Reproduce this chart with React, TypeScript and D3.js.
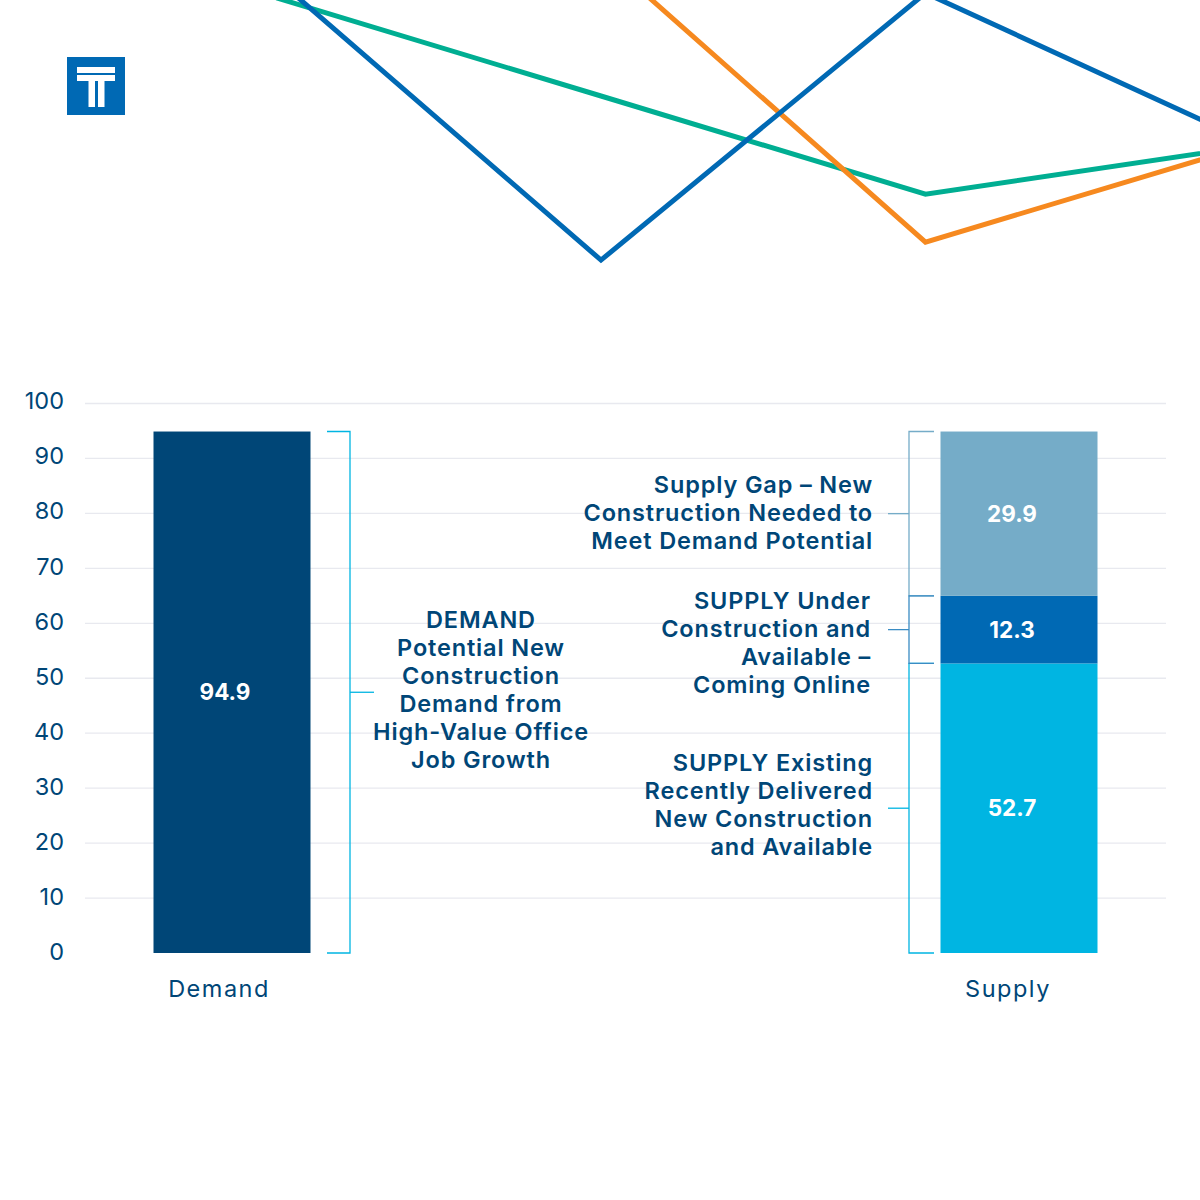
import React from 'react';
import * as d3 from 'd3';

const categories = ['Demand', 'Supply'];
const demandValues = [94.9];
const supplySegments = ['existing', 'underConstruction', 'gap'];
const supplyValues = [52.7, 12.3, 29.9];
const yTicks = [0, 10, 20, 30, 40, 50, 60, 70, 80, 90, 100];

const demandNote = ['DEMAND', 'Potential New', 'Construction', 'Demand from', 'High-Value Office', 'Job Growth'];
const gapNote = ['Supply Gap – New', 'Construction Needed to', 'Meet Demand Potential'];
const underNote = ['SUPPLY Under', 'Construction and', 'Available –', 'Coming Online'];
const existingNote = ['SUPPLY Existing', 'Recently Delivered', 'New Construction', 'and Available'];

// decorative trend lines at the top, cropped by the page edge
const trendSteps = ['a', 'b', 'c', 'd'];
const blueTrend = [107, 13.3, 102.3, 52.6];
const greenTrend = [100.7, 68, 35.3, 51.3];
const orangeTrend = [null, 115, 19.3, 51.7];

const NAVY = '#004677';
const BLUE = '#0069b4';
const CYAN = '#00b5e2';
const LIGHT = '#75acc8';
const GREEN = '#00ae92';
const ORANGE = '#f6891f';
const FONT = 'Inter, "Open Sans", sans-serif';

const width = 1200;
const height = 1200;

const y = d3.scaleLinear().domain([0, 100]).range([953, 403.5]);
const tickLabelY = d3.scaleLinear().domain([0, 100]).range([952, 401]);
const x = d3.scalePoint<string>().domain(categories).range([232, 1019]);
const barWidth = 157;

const trendX = d3.scalePoint<string>().domain(trendSteps).range([276.5, 1250]);
const trendY = d3.scaleLinear().domain([0, 100]).range([300, 0]);
const trendLine = d3
  .line<number | null>()
  .defined(d => d !== null)
  .x((_, i) => trendX(trendSteps[i]) as number)
  .y(d => trendY(d as number));

const stacked = d3.stack<number[]>().keys(['0', '1', '2'])([supplyValues] as any);
const supplyColors = d3.scaleOrdinal<string>().domain(supplySegments).range([CYAN, BLUE, LIGHT]);

const Note = ({ lines, px, top, anchor }: { lines: string[]; px: number; top: number; anchor: string }) => (
  <text
    x={px}
    y={top}
    textAnchor={anchor}
    fontFamily={FONT}
    fontWeight={600}
    fontSize={23.5}
    letterSpacing={0.85}
    fill={NAVY}
  >
    {lines.map((l, i) => (
      <tspan key={l} x={px} y={top + i * 28}>
        {l}
      </tspan>
    ))}
  </text>
);

// bracket: spine between two values with a stub pointing at the note
const Bracket = ({ from, to, spine, tip, stub, color }: any) => (
  <g fill="none" stroke={color} strokeWidth={1.3}>
    <path d={`M${tip},${y(to)}H${spine}V${y(from)}H${tip}`} />
    <path d={`M${spine},${(y(from) + y(to)) / 2}H${stub}`} />
  </g>
);

export default function App() {
  const demandX = x('Demand') as number;
  const supplyX = x('Supply') as number;
  return (
    <svg width={width} height={height} style={{ position: 'absolute', left: 0, top: 0, background: '#fff' }}>
      <g fill="none" strokeWidth={5}>
        <path d={trendLine(greenTrend) as string} stroke={GREEN} />
        <path d={trendLine(orangeTrend) as string} stroke={ORANGE} />
        <path d={trendLine(blueTrend) as string} stroke={BLUE} />
      </g>

      {/* logo */}
      <rect x={67} y={57} width={58} height={58} fill={BLUE} />
      <g fill="#fff">
        <rect x={77} y={67} width={38} height={6} />
        <rect x={77} y={75} width={38} height={6} />
        <rect x={88.5} y={81} width={6.5} height={26} />
        <rect x={98} y={81} width={6.5} height={26} />
      </g>

      {yTicks.map(t => (
        <g key={t}>
          {t > 0 && <line x1={85} x2={1166} y1={y(t)} y2={y(t)} stroke="#e8e9ef" strokeWidth={1.3} />}
          <text
            x={64}
            y={tickLabelY(t)}
            dy="0.35em"
            textAnchor="end"
            fontFamily={FONT}
            fontSize={23.5}
            fill={NAVY}
          >
            {t}
          </text>
        </g>
      ))}

      <rect
        x={demandX - barWidth / 2}
        y={y(demandValues[0])}
        width={barWidth}
        height={y(0) - y(demandValues[0])}
        fill={NAVY}
      />
      {stacked.map((s, i) => (
        <rect
          key={s.key}
          x={supplyX - barWidth / 2}
          y={y(s[0][1])}
          width={barWidth}
          height={y(s[0][0]) - y(s[0][1])}
          fill={supplyColors(supplySegments[i])}
        />
      ))}

      <g fontFamily={FONT} fontWeight={700} fontSize={22.5} fill="#fff" textAnchor="middle">
        <text x={demandX - 7} y={y(demandValues[0] / 2) + 8}>
          {demandValues[0]}
        </text>
        {stacked.map((s, i) => (
          <text key={s.key} x={supplyX - 7} y={y((s[0][0] + s[0][1]) / 2) + 8}>
            {supplyValues[i]}
          </text>
        ))}
      </g>

      <g fontFamily={FONT} fontSize={23.5} letterSpacing={1.5} fill={NAVY} textAnchor="middle">
        <text x={demandX - 13} y={997}>
          {categories[0]}
        </text>
        <text x={supplyX - 11} y={997}>
          {categories[1]}
        </text>
      </g>

      <Bracket from={0} to={demandValues[0]} spine={350} tip={327} stub={374} color={CYAN} />
      <Bracket from={0} to={52.7} spine={909} tip={934} stub={888} color={CYAN} />
      <Bracket from={65} to={demandValues[0]} spine={909} tip={934} stub={888} color={LIGHT} />
      <Bracket from={52.7} to={65} spine={909} tip={934} stub={888} color="#3a8cc4" />

      <Note lines={demandNote} px={481} top={628} anchor="middle" />
      <Note lines={gapNote} px={873} top={493} anchor="end" />
      <Note lines={underNote} px={871} top={609} anchor="end" />
      <Note lines={existingNote} px={873} top={771} anchor="end" />
    </svg>
  );
}
